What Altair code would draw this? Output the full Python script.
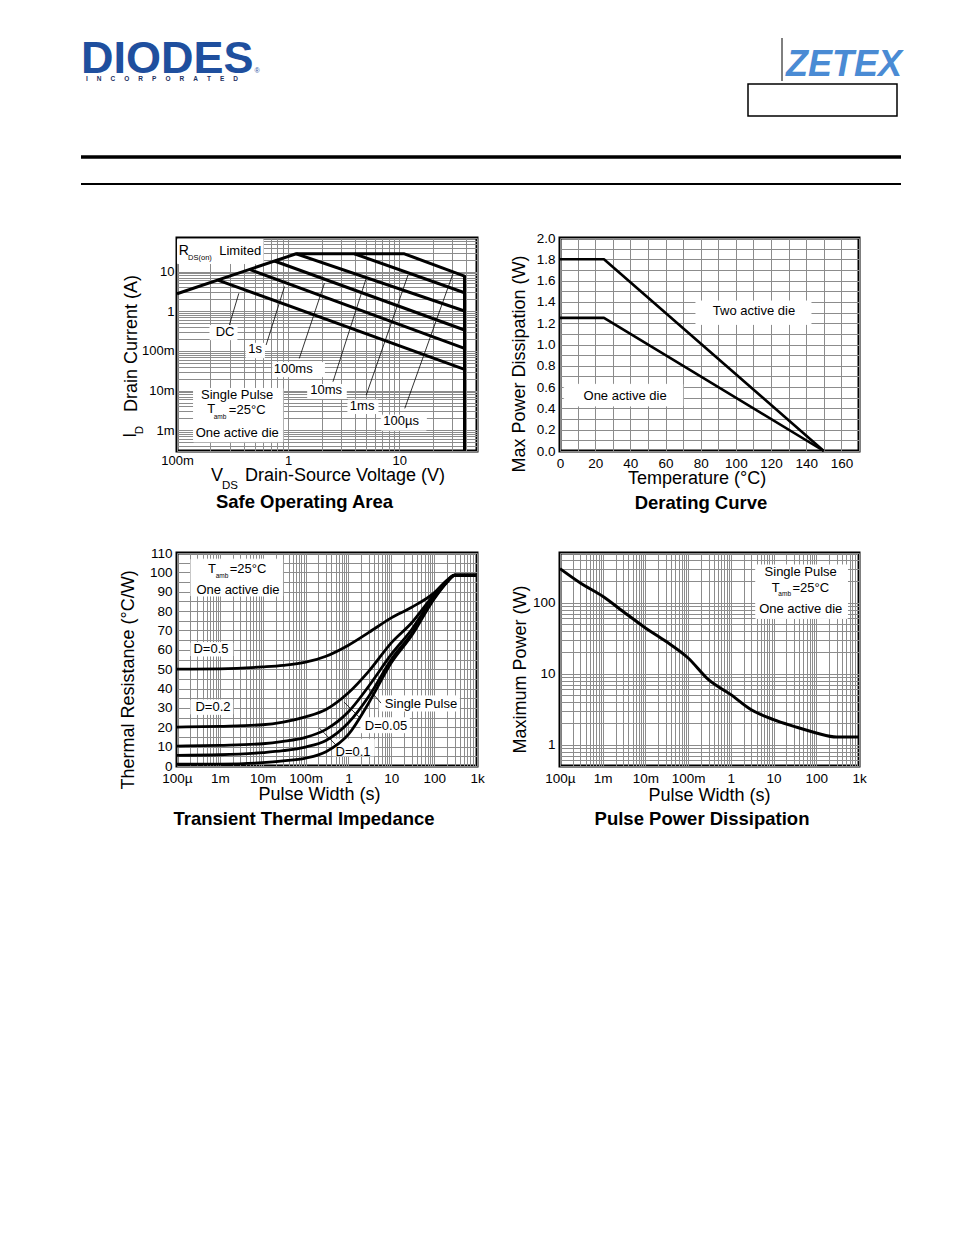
import altair as alt
import pandas as pd

FONT = "Liberation Sans"
GRID = "#8c8c8c"

# ---------------- Safe Operating Area data ----------------
soa_env_v = [0.1, 1.18, 11.1, 38.6, 38.6]
soa_env_i = [2.76, 28.0, 28.0, 7.7, 0.0003]
soa_names = ["DC", "1s", "100ms", "10ms", "1ms"]
soa_v_start = [0.233, 0.449, 0.753, 1.18, 3.95]
soa_i_start = [6.1, 11.3, 18.4, 28.0, 28.0]
soa_v_end = [38.6, 38.6, 38.6, 38.6, 38.6]
soa_i_end = [0.0343, 0.116, 0.336, 1.01, 2.92]
# leader lines (V1, I1, V2, I2)
soa_lead_v1 = [0.296, 0.634, 1.26, 2.53, 5.04, 11.2]
soa_lead_i1 = [0.451, 0.141, 0.0647, 0.0167, 0.0077, 0.00355]
soa_lead_v2 = [0.36, 0.927, 2.12, 5.04, 12.0, 30.5]
soa_lead_i2 = [2.83, 4.18, 5.07, 6.78, 8.26, 9.06]
# labels
soa_lab_text = ["DC", "1s", "100ms", "10ms", "1ms", "100µs", "R", "DS(on)", "Limited",
                "Single Pulse", "T", "amb", "=25°C", "One active die"]
soa_lab_v = [0.271, 0.505, 1.11, 2.2, 4.63, 10.4, 0.115, 0.161, 0.37, 0.348, 0.203, 0.244, 0.428, 0.348]
soa_lab_i = [0.30, 0.111, 0.0349, 0.0103, 0.00407, 0.0017, 32.9, 22.5, 32.9, 0.00773, 0.00343, 0.00215, 0.00324, 0.00085]
soa_lab_size = [13, 13, 13, 13, 13, 13, 14, 7.5, 13, 13, 13, 6.5, 13, 13]
# white label boxes
soa_box_v1 = [0.101, 0.198, 0.418, 0.728, 1.50, 3.45, 6.88, 0.141]
soa_box_v2 = [0.595, 0.347, 0.612, 2.12, 3.33, 6.43, 17.5, 0.896]
soa_box_i1 = [64.0, 0.433, 0.155, 0.0513, 0.01426, 0.00575, 0.0024, 0.0113]
soa_box_i2 = [15.9, 0.192, 0.0673, 0.0224, 0.0063, 0.00264, 0.00101, 0.00051]
soa_x_ticks = [0.1, 1, 10]
soa_x_labels = ["100m", "1", "10"]
soa_y_ticks = [0.001, 0.01, 0.1, 1, 10]
soa_y_labels = ["1m", "10m", "100m", "1", "10"]

# ---------------- Derating data ----------------
der_temp = [0, 25, 150]
der_two = [1.8, 1.8, 0.0]
der_one = [1.25, 1.25, 0.0]
der_lab_text = ["Two active die", "One active die"]
der_lab_x = [110.3, 37.0]
der_lab_y = [1.315, 0.516]
der_box_x1 = [77.3, 2.4]
der_box_x2 = [142.7, 69.8]
der_box_y1 = [1.408, 0.626]
der_box_y2 = [1.189, 0.423]
der_x_ticks = [0, 20, 40, 60, 80, 100, 120, 140, 160]
der_x_labels = ["0", "20", "40", "60", "80", "100", "120", "140", "160"]
der_y_ticks = [0.0, 0.2, 0.4, 0.6, 0.8, 1.0, 1.2, 1.4, 1.6, 1.8, 2.0]
der_y_labels = ["0.0", "0.2", "0.4", "0.6", "0.8", "1.0", "1.2", "1.4", "1.6", "1.8", "2.0"]

# ---------------- Transient thermal impedance ----------------
th_t = [1e-4, 1e-3, 1e-2, 3e-2, 1e-1, 0.3, 1, 3, 10, 30, 100, 200, 300, 1000]
th_d05 = [50, 50.2, 51.2, 52, 53.6, 56.7, 62.4, 69, 76.5, 82, 89.4, 96, 98.5, 98.5]
th_d02 = [20.1, 20.5, 21.3, 22.7, 25.4, 29.2, 37.8, 49, 63.6, 74, 88.5, 95.4, 98.5, 98.5]
th_d01 = [10.3, 10.7, 11.5, 12.7, 14.8, 18.9, 28, 41.3, 57.6, 70.5, 87.7, 95.4, 98.5, 98.5]
th_d005 = [5.5, 5.8, 6.9, 7.9, 9.8, 13.2, 22.3, 36, 55, 68.4, 86.8, 95, 98.5, 98.5]
th_sp = [0.9, 1.0, 1.7, 2.6, 4.1, 7.4, 16.3, 32.7, 53.3, 67.4, 86.3, 94.9, 98.5, 98.5]
th_lead_t1 = [5.75, 1.77, 0.54]
th_lead_r1 = [32.5, 25.3, 10.3]
th_lead_t2 = [2.71, 0.79, 0.21]
th_lead_r2 = [40.8, 33.0, 19.6]
th_lab_text = ["T", "amb", "=25°C", "One active die", "D=0.5", "D=0.2", "Single Pulse", "D=0.05", "D=0.1"]
th_lab_t = [6.56e-4, 1.12e-3, 4.54e-3, 2.65e-3, 6.2e-4, 6.9e-4, 49.3, 7.53, 1.28]
th_lab_r = [101.7, 98.1, 101.7, 90.9, 60.4, 30.5, 32.0, 20.7, 7.2]
th_lab_size = [13, 6.5, 13, 13, 13, 13, 13, 13, 13]
th_box_t1 = [2.12e-4, 2.12e-4, 2.12e-4, 5.25, 1.96, 0.43]
th_box_t2 = [0.0292, 0.002, 0.002, 386, 26.3, 4.0]
th_box_r1 = [106.8, 63.7, 34.1, 36.2, 24.9, 13.8]
th_box_r2 = [87.8, 56.8, 26.7, 28.4, 17.2, 5.2]
pw_x_ticks = [1e-4, 1e-3, 1e-2, 1e-1, 1, 10, 100, 1000]
pw_x_labels = ["100µ", "1m", "10m", "100m", "1", "10", "100", "1k"]
th_y_ticks = [0, 10, 20, 30, 40, 50, 60, 70, 80, 90, 100, 110]
th_y_labels = ["0", "10", "20", "30", "40", "50", "60", "70", "80", "90", "100", "110"]

# ---------------- Pulse power dissipation ----------------
pp_t = [1e-4, 3e-4, 1e-3, 3e-3, 1e-2, 3e-2, 1e-1, 0.3, 1, 3, 10, 30, 100, 300, 1000]
pp_p = [301, 189, 123, 75, 44, 28.5, 16.6, 8.2, 5.06, 3.1, 2.25, 1.81, 1.46, 1.28, 1.28]
pp_lab_text = ["Single Pulse", "T", "amb", "=25°C", "One active die"]
pp_lab_t = [43.2, 11.2, 18.2, 74.0, 43.2]
pp_lab_p = [270, 161, 132, 161, 81.3]
pp_lab_size = [13, 13, 6.5, 13, 13]
pp_box_t1 = [3.83]
pp_box_t2 = [537]
pp_box_p1 = [339]
pp_box_p2 = [60]
pp_y_ticks = [1, 10, 100]
pp_y_labels = ["1", "10", "100"]


# ---------------- helpers ----------------
def log_grid(lo, hi):
    vals = []
    e = -6
    while 10 ** e <= hi * 1.0001:
        for m in range(1, 10):
            v = float(f"{m}e{e}")
            if lo * 0.9999 <= v <= hi * 1.0001:
                vals.append(v)
        e += 1
    return vals


def lab_expr(vals, labs):
    parts = [f"datum.value == {v!r} ? '{l}'" for v, l in zip(vals, labs)]
    return " : ".join(parts) + " : ''"


def axis(vals, ticks, labels, pad, size=13):
    return alt.Axis(values=vals, labelExpr=lab_expr(ticks, labels), grid=True, gridColor=GRID,
                    gridWidth=1, gridOpacity=1, ticks=False, domain=False, labelFont=FONT,
                    labelFontSize=size, labelColor="black", labelPadding=pad, labelFlush=False,
                    labelOverlap=False, title=None)


def panel(sx, sy, ax, ay, lines, line_width, interp, boxes, leads, labels, titles, w, h):
    def X(f):
        return alt.X(f, type="quantitative", scale=sx, axis=ax)

    def Y(f):
        return alt.Y(f, type="quantitative", scale=sy, axis=ay)

    layers = []
    layers.append(alt.Chart(boxes).mark_rect(fill="white", stroke="white").encode(
        x=X("x1"), x2=alt.X2("x2"), y=Y("y1"), y2=alt.Y2("y2")))
    if leads is not None:
        layers.append(alt.Chart(leads).mark_rule(color="black", strokeWidth=0.8).encode(
            x=X("x1"), x2=alt.X2("x2"), y=Y("y1"), y2=alt.Y2("y2")))
    layers.append(alt.Chart(lines).mark_line(color="black", strokeWidth=line_width, interpolate=interp,
                                             strokeJoin="round").encode(
        x=X("x"), y=Y("y"), detail="s:N", order="i:Q"))
    layers.append(alt.Chart(labels).mark_text(font=FONT, color="black", align="center",
                                              baseline="middle").encode(
        x=X("x"), y=Y("y"), text="label:N", size=alt.Size("size:Q", scale=None, legend=None)))
    for t in titles:
        txt, px, py, fs, bold, ang = t
        kw = dict(font=FONT, fontSize=fs, color="black", align="center", baseline="alphabetic",
                  fontWeight="bold" if bold else "normal")
        if ang:
            kw["angle"] = ang
        layers.append(alt.Chart(pd.DataFrame({"t": [txt]})).mark_text(**kw).encode(
            x=alt.value(px), y=alt.value(py), text="t:N"))
    return alt.layer(*layers).properties(
        width=w, height=h, view=alt.ViewBackground(stroke="black", strokeWidth=3))


def long_lines(names, xs_list, ys_list):
    rows = []
    for n, xs, ys in zip(names, xs_list, ys_list):
        for i, (a, b) in enumerate(zip(xs, ys)):
            rows.append({"s": n, "i": i, "x": a, "y": b})
    return pd.DataFrame(rows)


def frame_boxes(x1, x2, y1, y2):
    return pd.DataFrame({"x1": x1, "x2": x2, "y1": y1, "y2": y2})


def frame_labels(t, x, y, s):
    return pd.DataFrame({"label": t, "x": x, "y": y, "size": s})


# ---------------- Safe Operating Area ----------------
soa_sx = alt.Scale(type="log", domain=[0.1, 50])
soa_sy = alt.Scale(type="log", domain=[0.0003, 70])
soa_lines = long_lines(
    ["env"] + soa_names,
    [soa_env_v] + [[a, b] for a, b in zip(soa_v_start, soa_v_end)],
    [soa_env_i] + [[a, b] for a, b in zip(soa_i_start, soa_i_end)])
soa = panel(
    soa_sx, soa_sy,
    axis(log_grid(0.1, 50), soa_x_ticks, soa_x_labels, 3),
    axis(log_grid(0.0003, 70), soa_y_ticks, soa_y_labels, 3),
    soa_lines, 3, "linear",
    frame_boxes(soa_box_v1, soa_box_v2, soa_box_i1, soa_box_i2),
    frame_boxes(soa_lead_v1, soa_lead_v2, soa_lead_i1, soa_lead_i2),
    frame_labels(soa_lab_text, soa_lab_v, soa_lab_i, soa_lab_size),
    [("Drain Current (A)", -40, 105.5, 18, False, 270),
     ("I", -41, 197.3, 18, False, 270),
     ("D", -34.3, 192, 11.5, False, 270),
     ("Drain-Source Voltage (V)", 168, 243, 18, False, 0),
     ("V", 40, 243, 18, False, 0),
     ("DS", 53, 251, 11.5, False, 0),
     ("Safe Operating Area", 127.5, 270, 18.5, True, 0)],
    300, 213)

# ---------------- Derating ----------------
der_sx = alt.Scale(type="linear", domain=[0, 170], nice=False, zero=False)
der_sy = alt.Scale(type="linear", domain=[0, 2.0], nice=False)
der_lines = long_lines(["two", "one"], [der_temp, der_temp], [der_two, der_one])
der = panel(
    der_sx, der_sy,
    axis(list(range(0, 171, 10)), der_x_ticks, der_x_labels, 5, 13.5),
    axis([round(i * 0.1, 1) for i in range(21)], der_y_ticks, der_y_labels, 5, 13.5),
    der_lines, 2.6, "linear",
    frame_boxes(der_box_x1, der_box_x2, der_box_y1, der_box_y2),
    None,
    frame_labels(der_lab_text, der_lab_x, der_lab_y, [13, 13]),
    [("Max Power Dissipation (W)", -35, 126, 18, False, 270),
     ("Temperature (°C)", 137, 246, 18, False, 0),
     ("Derating Curve", 141, 271, 18.5, True, 0)],
    299, 213)

# ---------------- Transient thermal impedance ----------------
th_sx = alt.Scale(type="log", domain=[1e-4, 1000])
th_sy = alt.Scale(type="linear", domain=[0, 110], nice=False)
th_lines = long_lines(["d05", "d02", "d01", "d005", "sp"], [th_t] * 5,
                      [th_d05, th_d02, th_d01, th_d005, th_sp])
th = panel(
    th_sx, th_sy,
    axis(log_grid(1e-4, 1000), pw_x_ticks, pw_x_labels, 5, 13.5),
    axis(list(range(0, 111, 5)), th_y_ticks, th_y_labels, 5, 13.5),
    th_lines, 2.8, "monotone",
    frame_boxes(th_box_t1, th_box_t2, th_box_r1, th_box_r2),
    frame_boxes(th_lead_t1, th_lead_t2, th_lead_r1, th_lead_r2),
    frame_labels(th_lab_text, th_lab_t, th_lab_r, th_lab_size),
    [("Thermal Resistance (°C/W)", -43, 127, 18, False, 270),
     ("Pulse Width (s)", 142.5, 247, 18, False, 0),
     ("Transient Thermal Impedance", 127, 272, 18.5, True, 0)],
    300, 213)

# ---------------- Pulse power dissipation ----------------
pp_sx = alt.Scale(type="log", domain=[1e-4, 1000])
pp_sy = alt.Scale(type="log", domain=[0.5, 500])
pp_lines = long_lines(["p"], [pp_t], [pp_p])
pp = panel(
    pp_sx, pp_sy,
    axis(log_grid(1e-4, 1000), pw_x_ticks, pw_x_labels, 5, 13.5),
    axis(log_grid(0.5, 500), pp_y_ticks, pp_y_labels, 5, 13.5),
    pp_lines, 3, "monotone",
    frame_boxes(pp_box_t1, pp_box_t2, pp_box_p1, pp_box_p2),
    None,
    frame_labels(pp_lab_text, pp_lab_t, pp_lab_p, pp_lab_size),
    [("Maximum Power (W)", -34, 116.5, 18, False, 270),
     ("Pulse Width (s)", 149.5, 248, 18, False, 0),
     ("Pulse Power Dissipation", 142, 272, 18.5, True, 0)],
    299, 213)

# ---------------- Page header (decoration, page coordinates) ----------------
hx = alt.Scale(domain=[8, 900], nice=False, zero=False)
hy = alt.Scale(domain=[8, 208], nice=False, zero=False, reverse=True)
rule_x1 = [80, 80, 781]
rule_x2 = [900, 900, 781]
rule_y1 = [156, 183, 37]
rule_y2 = [156, 183, 80]
rule_w = [3.5, 2.2, 1.0]
incorp_text = "\u00a0\u00a0\u00a0\u00a0\u00a0".join(list("INCORPORATED"))

hdr_rules = pd.DataFrame({"x1": rule_x1, "x2": rule_x2, "y1": rule_y1, "y2": rule_y2, "w": rule_w})
hdr = alt.layer(
    alt.Chart(hdr_rules).mark_rule(color="black").encode(
        x=alt.X("x1:Q", scale=hx, axis=None), x2="x2:Q",
        y=alt.Y("y1:Q", scale=hy, axis=None), y2="y2:Q",
        strokeWidth=alt.StrokeWidth("w:Q", scale=None, legend=None)),
    alt.Chart(pd.DataFrame({"x1": [747], "x2": [896], "y1": [83], "y2": [115]})).mark_rect(
        fill="white", stroke="black", strokeWidth=1.5).encode(
        x=alt.X("x1:Q", scale=hx, axis=None), x2="x2:Q",
        y=alt.Y("y1:Q", scale=hy, axis=None), y2="y2:Q"),
    alt.Chart(pd.DataFrame({"x": [80], "y": [72], "t": ["DIODES"]})).mark_text(
        font=FONT, fontSize=45, fontWeight="bold", color="#1f4f9e", align="left",
        baseline="alphabetic").encode(
        x=alt.X("x:Q", scale=hx, axis=None), y=alt.Y("y:Q", scale=hy, axis=None), text="t:N"),
    alt.Chart(pd.DataFrame({"x": [256], "y": [72], "t": ["®"]})).mark_text(
        font=FONT, fontSize=7, color="#1f4f9e", align="center", baseline="alphabetic").encode(
        x=alt.X("x:Q", scale=hx, axis=None), y=alt.Y("y:Q", scale=hy, axis=None), text="t:N"),
    alt.Chart(pd.DataFrame({"x": [85], "y": [80], "t": [incorp_text]})).mark_text(
        font=FONT, fontSize=6.5, fontWeight="bold", color="#1d2f5f", align="left",
        baseline="alphabetic").encode(
        x=alt.X("x:Q", scale=hx, axis=None), y=alt.Y("y:Q", scale=hy, axis=None), text="t:N"),
    alt.Chart(pd.DataFrame({"x": [785], "y": [75], "t": ["ZETEX"]})).mark_text(
        font=FONT, fontSize=36, fontWeight="bold",
        fontStyle="italic", color="#4a8bd4", align="left", baseline="alphabetic").encode(
        x=alt.X("x:Q", scale=hx, axis=None), y=alt.Y("y:Q", scale=hy, axis=None), text="t:N"),
).properties(width=892, height=200, view=alt.ViewBackground(stroke="transparent"))


def make_spacer():
    return alt.Chart(pd.DataFrame({"a": [0]})).mark_point(opacity=0, size=1).encode(
        x=alt.value(40), y=alt.value(100)).properties(
        width=85, height=213, view=alt.ViewBackground(stroke="transparent"))


grid = alt.concat(make_spacer(), soa, der, make_spacer(), th, pp, columns=3,
                  spacing={"row": 102, "column": 83}, bounds="flush")
chart = alt.vconcat(hdr, grid, spacing=29, bounds="flush").properties(
    padding=0, background="white").configure(font=FONT)

chart.save("out.html", embed_options={"renderer": "svg", "actions": False})
